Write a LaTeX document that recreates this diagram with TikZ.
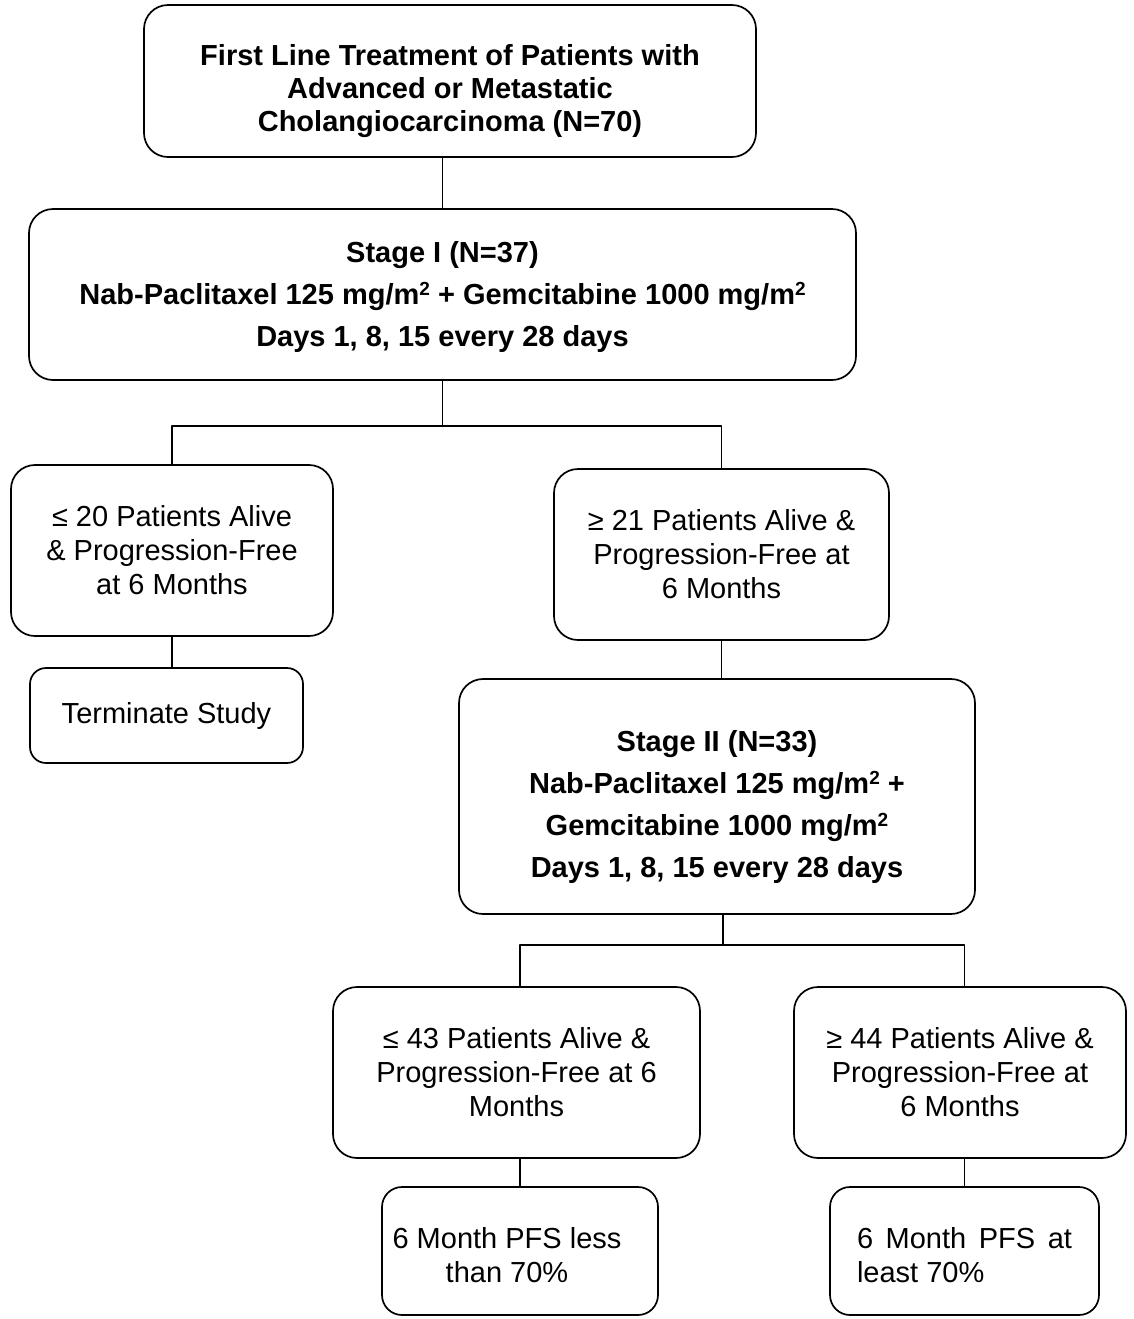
\documentclass[tikz,border=0pt]{standalone}
\usepackage{fontspec}
\setmainfont{Liberation Sans}
\usetikzlibrary{positioning,calc}
\newcommand{\persqm}{m\raisebox{4.3pt}{\fontsize{9.5}{9.5}\selectfont 2}}

\begin{document}
\begin{tikzpicture}[x=0.5pt, y=-0.5pt, line join=round,
  flowbox/.style={draw, line width=0.85pt, rounded corners=12pt, fill=white, align=center, inner sep=0pt, font=\fontsize{14.5}{17}\selectfont},
  stagebox/.style={flowbox, font=\bfseries\fontsize{14.5}{21}\selectfont},
  link/.style={line width=0.7pt}]
\useasboundingbox (0,0) rectangle (1134,1319);
\node[stagebox, minimum width=306pt, minimum height=76pt, font=\bfseries\fontsize{14.5}{16.5}\selectfont] (top) at (450,81) {\rule{0pt}{21pt}First Line Treatment of Patients with\\Advanced or Metastatic\\Cholangiocarcinoma (N=70)};
\node[stagebox, minimum width=413.5pt, minimum height=85.5pt] (stage1) at (442.5,294.5) {\rule{0pt}{13pt}Stage I (N=37)\\Nab-Paclitaxel 125 mg/\persqm{} + Gemcitabine 1000 mg/\persqm\\Days 1, 8, 15 every 28 days};
\node[flowbox, minimum width=161pt, minimum height=85.5pt] (lo1) at (172,550.5) {≤ 20 Patients Alive\\\& Progression-Free\\at 6 Months};
\node[flowbox, minimum width=167.5pt, minimum height=85.5pt] (hi1) at (721.5,554.5) {≥ 21 Patients Alive \&\\Progression-Free at\\6 Months};
\node[flowbox, minimum width=136.5pt, minimum height=47.5pt, rounded corners=8pt] (stop) at (166.5,715.5) {Terminate Study};
\node[stagebox, minimum width=258pt, minimum height=117.5pt] (stage2) at (717,796.5) {\rule{0pt}{21pt}Stage II (N=33)\\Nab-Paclitaxel 125 mg/\persqm{} +\\Gemcitabine 1000 mg/\persqm\\Days 1, 8, 15 every 28 days};
\node[flowbox, minimum width=183.5pt, minimum height=85.5pt] (lo2) at (516.5,1072.5) {≤ 43 Patients Alive \&\\Progression-Free at 6\\Months};
\node[flowbox, minimum width=166pt, minimum height=85.5pt] (hi2) at (960,1072.5) {≥ 44 Patients Alive \&\\Progression-Free at\\6 Months};
\node[flowbox, minimum width=138pt, minimum height=64pt, rounded corners=10pt] (less) at (520,1251) {\begin{tabular}{@{}c@{\hspace{13pt}}}\rule{0pt}{20pt}6 Month PFS less\\than 70\%\end{tabular}};
\node[flowbox, minimum width=134.5pt, minimum height=64pt, rounded corners=10pt, align=left] (least) at (964.5,1251) {\rule{0pt}{15pt}\makebox[107.5pt][s]{6 Month PFS at}\\least 70\%};
% branch points
\coordinate (split1) at (442.5,426);
\coordinate (split2) at (723,945);
\draw[link] (top.south -| stage1.north) -- (stage1.north);
\draw[link] (stage1.south) -- (split1);
\draw[link] (lo1.north) |- (split1) -| (hi1.north);
\draw[link] (lo1.south) -- (lo1.south |- stop.north);
\draw[link] (hi1.south) -- (hi1.south |- stage2.north);
\draw[link] (split2 |- stage2.south) -- (split2);
\draw[link] (less.north |- lo2.north) |- (split2) -| (least.north |- hi2.north);
\draw[link] (lo2.south -| less.north) -- (less.north);
\draw[link] (hi2.south -| least.north) -- (least.north);
\end{tikzpicture}
\end{document}
